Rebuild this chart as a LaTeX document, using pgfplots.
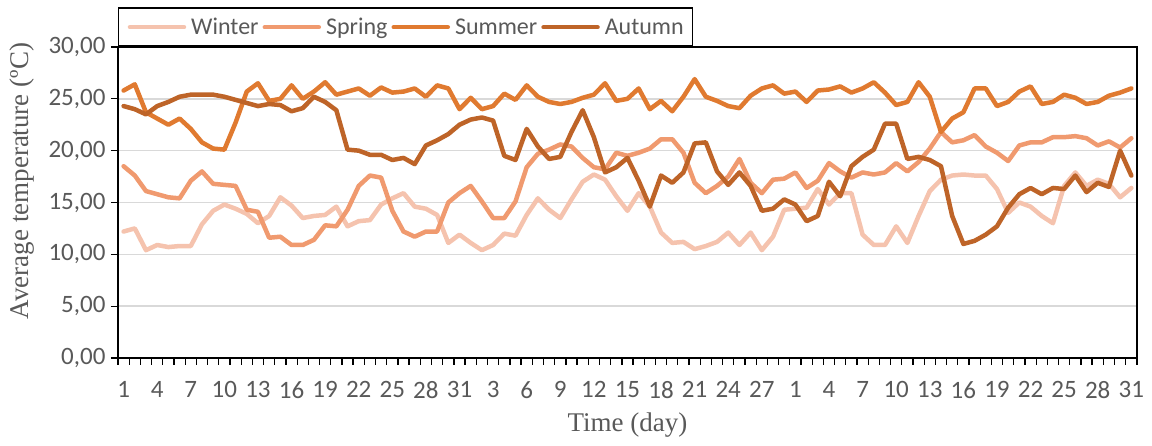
\documentclass[border=0pt]{standalone}
\usepackage{pgfplots}
\pgfplotsset{compat=1.18}
\usepackage{pgfplotstable}
\usepackage{fontspec}
\setmainfont{Carlito}
\newfontfamily\serifl{Liberation Serif}
\definecolor{cwinter}{HTML}{F5C3AE}
\definecolor{cspring}{HTML}{F09A6F}
\definecolor{csummer}{HTML}{E07A30}
\definecolor{cautumn}{HTML}{BE6428}
\definecolor{txtgray}{HTML}{595959}
\definecolor{gridgray}{HTML}{D9D9D9}
\pgfplotstableread{
i w sp su au
1 12.2 18.5 25.8 24.3
2 12.5 17.6 26.4 24.0
3 10.4 16.1 23.7 23.5
4 10.9 15.8 23.1 24.3
5 10.7 15.5 22.5 24.7
6 10.8 15.4 23.1 25.2
7 10.8 17.1 22.1 25.4
8 12.9 18.0 20.8 25.4
9 14.2 16.8 20.2 25.4
10 14.8 16.7 20.1 25.2
11 14.4 16.6 22.7 24.9
12 13.9 14.3 25.7 24.6
13 13.0 14.1 26.5 24.3
14 13.7 11.6 24.8 24.5
15 15.5 11.7 25.0 24.4
16 14.7 10.9 26.3 23.8
17 13.5 10.9 25.0 24.1
18 13.7 11.4 25.7 25.2
19 13.8 12.8 26.6 24.7
20 14.6 12.7 25.4 23.9
21 12.7 14.3 25.7 20.1
22 13.2 16.6 26.0 20.0
23 13.3 17.6 25.3 19.6
24 14.8 17.4 26.1 19.6
25 15.4 14.2 25.6 19.1
26 15.9 12.2 25.7 19.3
27 14.6 11.7 26.0 18.7
28 14.4 12.2 25.2 20.5
29 13.8 12.2 26.3 21.0
30 11.1 15.0 26.0 21.6
31 11.9 15.9 24.0 22.5
32 11.1 16.6 25.1 23.0
33 10.4 15.1 24.0 23.2
34 10.9 13.5 24.3 22.9
35 12.0 13.5 25.5 19.5
36 11.8 15.1 24.9 19.1
37 13.8 18.4 26.3 22.1
38 15.4 19.7 25.2 20.4
39 14.3 20.1 24.7 19.2
40 13.5 20.6 24.5 19.4
41 15.3 20.4 24.7 21.8
42 17.0 19.3 25.1 23.9
43 17.7 18.4 25.4 21.3
44 17.2 18.2 26.5 17.9
45 15.6 19.8 24.8 18.4
46 14.2 19.5 25.0 19.3
47 15.9 19.8 26.0 17.1
48 14.6 20.2 24.0 14.6
49 12.1 21.1 24.8 17.6
50 11.1 21.1 23.8 16.9
51 11.2 19.8 25.2 17.9
52 10.5 16.9 26.9 20.7
53 10.8 15.9 25.2 20.8
54 11.2 16.6 24.8 18.0
55 12.1 17.5 24.3 16.7
56 10.9 19.2 24.1 17.9
57 12.1 16.9 25.3 16.6
58 10.4 15.9 26.0 14.2
59 11.7 17.2 26.3 14.4
60 14.3 17.3 25.5 15.3
61 14.4 17.9 25.7 14.8
62 14.5 16.4 24.7 13.2
63 16.3 17.1 25.8 13.7
64 14.8 18.8 25.9 17.0
65 15.9 18.0 26.2 15.6
66 15.9 17.4 25.6 18.5
67 11.9 17.9 26.0 19.4
68 10.9 17.7 26.6 20.1
69 10.9 17.9 25.6 22.6
70 12.7 18.8 24.4 22.6
71 11.1 18.0 24.7 19.2
72 13.7 18.9 26.6 19.4
73 16.1 20.2 25.2 19.1
74 17.2 21.8 21.8 18.5
75 17.6 20.8 23.1 13.7
76 17.7 21.0 23.7 11.0
77 17.6 21.5 26.0 11.3
78 17.6 20.4 26.0 11.9
79 16.3 19.8 24.3 12.7
80 14.0 19.0 24.7 14.5
81 15.0 20.5 25.7 15.8
82 14.6 20.8 26.2 16.4
83 13.7 20.8 24.5 15.8
84 13.0 21.3 24.7 16.4
85 16.6 21.3 25.4 16.3
86 17.9 21.4 25.1 17.6
87 16.6 21.2 24.5 16.0
88 17.2 20.5 24.7 16.9
89 16.8 20.9 25.3 16.5
90 15.5 20.3 25.6 20.0
91 16.4 21.2 26.0 17.6
}\datatable
\begin{document}
\begin{tikzpicture}
\useasboundingbox (-118pt,-88pt) rectangle (1034pt,358pt);
\begin{axis}[
  at={(0pt,0pt)}, anchor=south west,
  scale only axis, width=1019pt, height=311pt,
  xmin=0.5, xmax=91.5, ymin=0, ymax=30,
  axis line style={black, line width=1.5pt},
  tick align=outside,
  xtick pos=left, ytick pos=left,
  major tick length=7pt,
  tick style={black, line width=1.3pt},
  xtick={0.5,1.5,...,91.5},
  xticklabels={},
  extra x ticks={1,4,...,91},
  extra x tick labels={1,4,7,10,13,16,19,22,25,28,31,3,6,9,12,15,18,21,24,27,1,4,7,10,13,16,19,22,25,28,31},
  extra x tick style={major tick length=0pt, xticklabel style={yshift=-20pt}},
  ytick={0,5,...,30},
  yticklabels={{0,00},{5,00},{10,00},{15,00},{20,00},{25,00},{30,00}},
  ymajorgrids,
  grid style={gridgray, line width=1.5pt},
  ticklabel style={font=\fontsize{25}{28}\selectfont, text=txtgray},
  yticklabel style={xshift=-2pt},
  xlabel={\serifl Time (day)},
  ylabel={\serifl Average temperature (ºC)},
  label style={text=txtgray, font=\fontsize{27}{31}\selectfont},
  xlabel style={at={(axis description cs:0.5,-0.215)}, anchor=center},
  ylabel style={at={(axis description cs:-0.094,0.569)}, anchor=center, rotate=0},
  legend columns=4,
  legend image code/.code={\draw[#1] (0pt,0pt) -- (54pt,0pt);},
  legend style={at={(rel axis cs:0,1)}, anchor=south west, draw=black, line width=1.5pt,
    font=\fontsize{24}{28}\selectfont, text=txtgray, inner xsep=9pt, inner ysep=10pt,
    nodes={inner sep=0pt},
    /tikz/every odd column/.append style={column sep=5pt},
    /tikz/every even column/.append style={column sep=4pt}},
  every axis plot/.append style={line width=4.5pt, line join=round, line cap=round},
]
\addplot[cwinter] table[x=i,y=w] {\datatable};
\addlegendentry{Winter}
\addplot[cspring] table[x=i,y=sp] {\datatable};
\addlegendentry{Spring}
\addplot[csummer] table[x=i,y=su] {\datatable};
\addlegendentry{Summer}
\addplot[cautumn] table[x=i,y=au] {\datatable};
\addlegendentry{Autumn}
\end{axis}
\end{tikzpicture}
\end{document}
